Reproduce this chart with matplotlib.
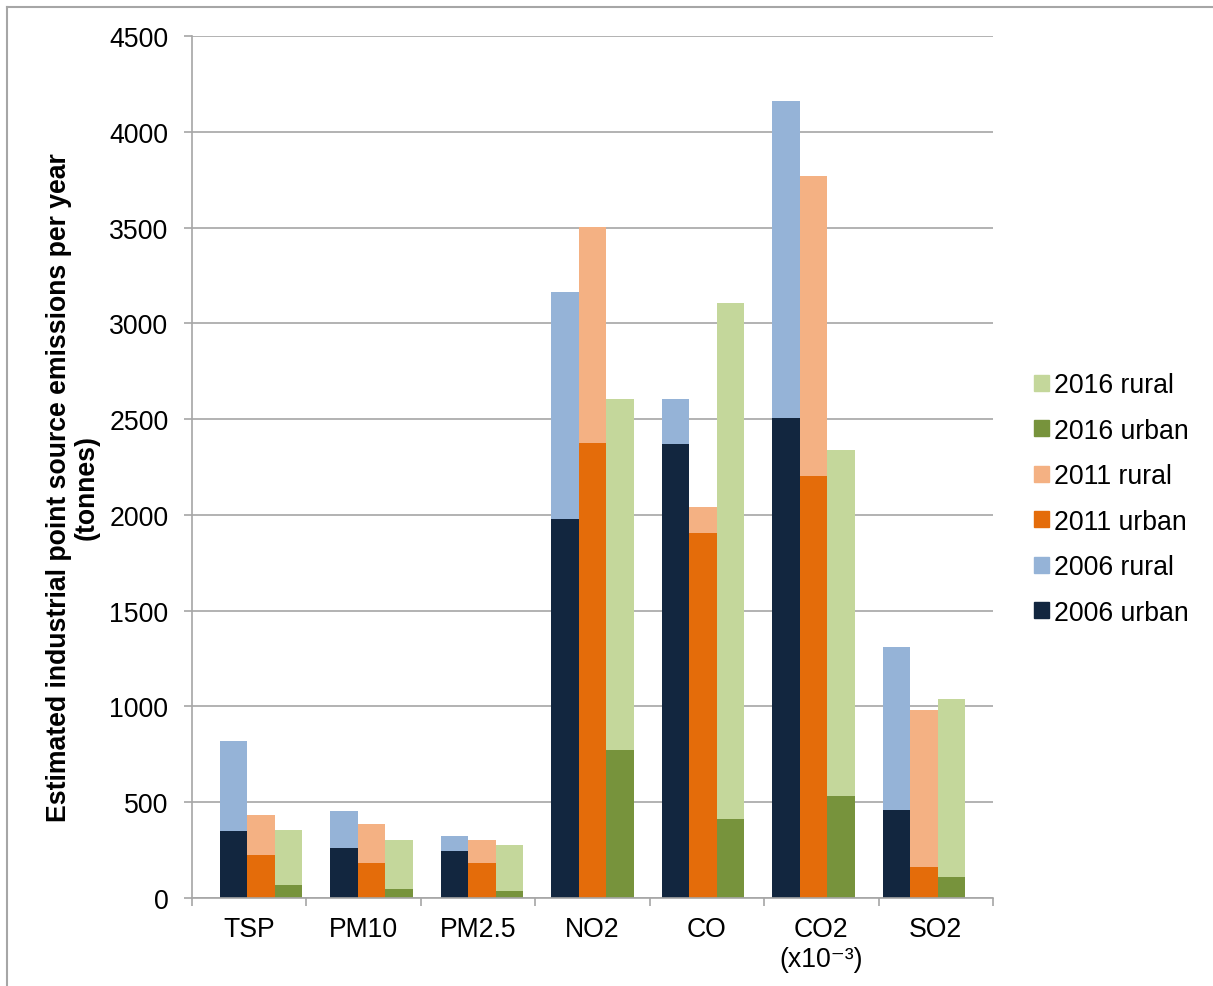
import numpy as np
import matplotlib.pyplot as plt
from matplotlib.patches import Patch
from matplotlib.lines import Line2D

plt.rcParams['font.family'] = ['Liberation Sans', 'DejaVu Sans']

pollutants = ['TSP', 'PM10', 'PM2.5', 'NO2', 'CO', 'CO2\n(x10\u207b\u00b3)', 'SO2']

# estimated emissions (tonnes/year), urban part and full bar height
urban_2006 = [352, 263, 243, 1979, 2371, 2508, 457]
total_2006 = [820, 455, 324, 3166, 2606, 4161, 1309]
urban_2011 = [226, 181, 183, 2375, 1904, 2203, 161]
total_2011 = [434, 387, 301, 3502, 2042, 3769, 980]
urban_2016 = [70, 47, 35, 772, 411, 532, 112]
total_2016 = [355, 303, 277, 2604, 3108, 2340, 1041]

years = ['2006', '2011', '2016']
urban_colors = ['#12263f', '#e46c0a', '#77933c']
rural_colors = ['#95b3d7', '#f4b183', '#c4d79b']

urban = [urban_2006, urban_2011, urban_2016]
total = [total_2006, total_2011, total_2016]

fs = 19.2

fig = plt.figure(figsize=(12.13, 9.87), dpi=100)
ax = fig.add_axes([192 / 1213, 1 - 899 / 987, 801 / 1213, 862 / 987])

# one slot per bar, an empty slot between pollutant groups
n = len(pollutants)
nslots = 4 * n + 1
for j in range(3):
    x = np.arange(n) * 4 + 1 + j
    u = np.array(urban[j])
    r = np.array(total[j]) - u
    ax.bar(x, u, width=1, align='edge', color=urban_colors[j], linewidth=0)
    ax.bar(x, r, bottom=u, width=1, align='edge', color=rural_colors[j], linewidth=0)

ax.set_xlim(0, nslots)
ax.set_ylim(0, 4500)
ax.set_yticks(np.arange(0, 4501, 500))

grey = '#a6a6a6'
ax.yaxis.grid(True, color=grey, linewidth=1.2)
ax.set_axisbelow(True)
for s in ['top', 'right']:
    ax.spines[s].set_visible(False)
for s in ['left', 'bottom']:
    ax.spines[s].set_color(grey)
    ax.spines[s].set_linewidth(1.2)

step = nslots / n
ax.set_xticks(np.arange(n + 1) * step)
ax.set_xticklabels([])
ax.set_xticks((np.arange(n) + 0.5) * step, minor=True)
ax.set_xticklabels(pollutants, minor=True, fontsize=fs)
ax.tick_params(axis='x', which='major', length=6, width=1.2, color=grey, direction='out')
ax.tick_params(axis='x', which='minor', length=0, pad=13)
ax.tick_params(axis='y', length=6, width=1.2, color=grey, pad=11, labelsize=fs)

fig.text(73 / 1213, 1 - 488 / 987,
         'Estimated industrial point source emissions per year\n(tonnes)',
         rotation=90, ha='center', va='center', multialignment='center',
         fontsize=fs, fontweight='bold', linespacing=1.1)

handles = []
labels = []
for j in [2, 1, 0]:
    handles.append(Patch(color=rural_colors[j]))
    labels.append(years[j] + ' rural')
    handles.append(Patch(color=urban_colors[j]))
    labels.append(years[j] + ' urban')
fig.legend(handles, labels, loc='center left', bbox_to_anchor=(1034 / 1213, 1 - 500 / 987),
           frameon=False, fontsize=fs, handlelength=0.55, handleheight=0.55,
           handletextpad=0.2, labelspacing=0.73, borderaxespad=0, borderpad=0)

# thin frame along the left and top edges
fig.add_artist(Line2D([7 / 1213, 7 / 1213], [0, 1 - 8 / 987], color=grey, linewidth=1.5))
fig.add_artist(Line2D([7 / 1213, 1], [1 - 8 / 987, 1 - 8 / 987], color=grey, linewidth=1.5))

fig.savefig('out.png', dpi=100)
